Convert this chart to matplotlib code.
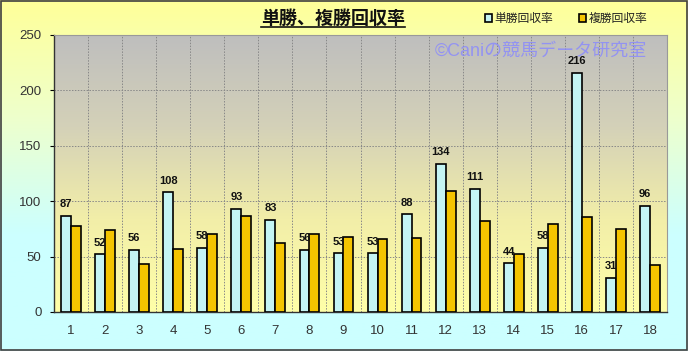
import numpy as np
import matplotlib.pyplot as plt
from matplotlib.colors import LinearSegmentedColormap
from matplotlib.patches import Patch, Rectangle
from matplotlib.lines import Line2D

plt.rcParams['font.family'] = ['Liberation Sans', 'Noto Sans CJK JP']

# データ
races = [str(i) for i in range(1, 19)]
tansho = [87, 52, 56, 108, 58, 93, 83, 56, 53, 53, 88, 134, 111, 44, 58, 216, 31, 96]
fukusho = [78, 74, 43, 57, 70, 87, 62, 70, 68, 66, 67, 109, 82, 52, 79, 86, 75, 42]

fig = plt.figure(figsize=(6.88, 3.51), dpi=100)

# 背景のグラデーション (黄 -> 水色)
bg = fig.add_axes([0, 0, 1, 1], zorder=-10)
bg_cmap = LinearSegmentedColormap.from_list('bg', ['#ffff99', '#eeffcc', '#ccffff', '#ccffff'])
bg.imshow(np.linspace(0, 1, 256).reshape(-1, 1), aspect='auto', cmap=bg_cmap,
          extent=[0, 1, 0, 1], origin='upper')
bg.set_axis_off()
bg.add_patch(Rectangle((0.001, 0.002), 0.997, 0.995, transform=bg.transAxes,
                       fill=False, ec='#404040', lw=1.2))

ax = fig.add_axes([54 / 688, 1 - 312 / 351, 613 / 688, 277 / 351])

# プロットエリアのグラデーション (灰 -> 薄黄)
pa_cmap = LinearSegmentedColormap.from_list('pa', ['#bebebe', '#d4d1b8', '#f2eea8', '#ffffa8'])
ax.imshow(np.linspace(0, 1, 256).reshape(-1, 1), aspect='auto', cmap=pa_cmap,
          extent=[-0.5, 17.5, 0, 250], origin='upper', zorder=0)

x = np.arange(len(races))
w = 0.29
ax.bar(x - w / 2, tansho, w, color='#c4f4f4', edgecolor='black', lw=1.2,
       zorder=3, label='単勝回収率')
ax.bar(x + w / 2, fukusho, w, color='#f4c400', edgecolor='black', lw=1.2,
       zorder=3, label='複勝回収率')

for xi, v in zip(x, tansho):
    ax.text(xi - w / 2, v + 6, str(v), ha='center', va='bottom', fontsize=8,
            fontweight='bold', color='#111111', zorder=4)

ax.set_xlim(-0.5, 17.5)
ax.set_ylim(0, 250)
ax.set_yticks(range(0, 251, 50))
ax.set_xticks(x)
ax.set_xticklabels(races)
ax.set_xticks(np.arange(0.5, 17, 1), minor=True)
ax.tick_params(axis='x', which='both', length=0, pad=9, labelsize=9.5, labelcolor='#333333')
ax.tick_params(axis='y', length=3, pad=6, labelsize=9.5, labelcolor='#333333')
ax.grid(which='minor', axis='x', color='#888888', ls=(0, (1.5, 1.5)), lw=0.7, zorder=1)
ax.grid(which='major', axis='y', color='#888888', ls=(0, (1.5, 1.5)), lw=0.7, zorder=1)
for s in ['top', 'right']:
    ax.spines[s].set_color('#999999')
for s in ['left', 'bottom']:
    ax.spines[s].set_color('#333333')
    ax.spines[s].set_linewidth(1.0)

# 透かし
ax.text(0.967, 0.94, '©Caniの競馬データ研究室', transform=ax.transAxes, ha='right', va='center',
        fontsize=13, color='#8888ff', alpha=0.8, zorder=2)

# タイトル (下線付き)
t = fig.text(333 / 688, 1 - 19 / 351, '単勝、複勝回収率', ha='center', va='center',
             fontsize=13, fontweight='bold', color='#111111')
fig.canvas.draw()
bb = t.get_window_extent().transformed(fig.transFigure.inverted())
fig.add_artist(Line2D([bb.x0, bb.x1], [bb.y0 + 0.003, bb.y0 + 0.003],
                      transform=fig.transFigure, color='#111111', lw=1.2))

handles = [Patch(fc='#c4f4f4', ec='black', lw=1.2), Patch(fc='#f4c400', ec='black', lw=1.2)]
fig.legend(handles, ['単勝回収率', '複勝回収率'], loc='center', ncol=2, frameon=False,
           bbox_to_anchor=(566 / 688, 1 - 19 / 351), handlelength=0.6, handleheight=0.6,
           handletextpad=0.2, columnspacing=2.2, fontsize=8.5, labelcolor='#222222')

fig.savefig('out.png', dpi=100)
